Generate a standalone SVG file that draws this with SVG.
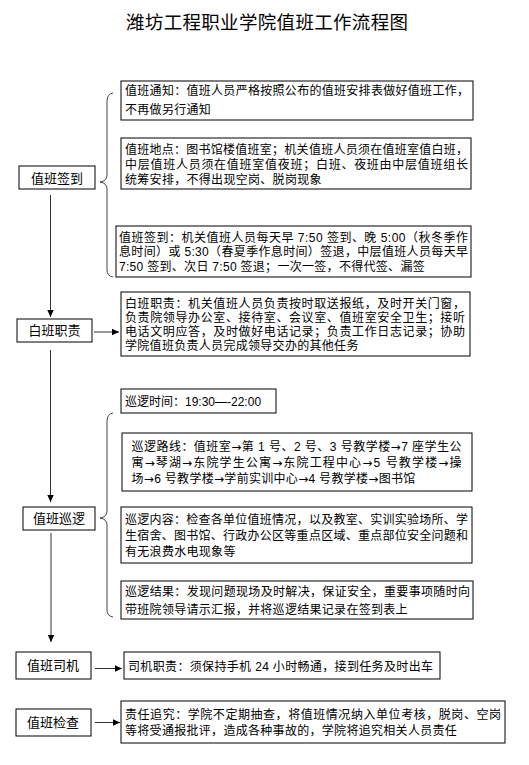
<svg xmlns="http://www.w3.org/2000/svg" width="529" height="765" viewBox="0 0 529 765">
<defs>
<marker id="ah" markerUnits="userSpaceOnUse" markerWidth="8" markerHeight="8" refX="7" refY="4" orient="auto">
<path d="M0,0.8 L7,4 L0,7.2 Z" fill="#000"/>
</marker>
<style>
.bx{fill:#fff;stroke:#000;stroke-width:1}
.t{font-family:"Liberation Sans","Noto Sans CJK SC",sans-serif;font-size:12px;fill:#000}
.a{font-family:"DejaVu Sans","Noto Sans CJK SC",sans-serif}
.n{font-family:"Liberation Sans","Noto Sans CJK SC",sans-serif;font-size:13px;fill:#000;text-anchor:middle}
.ttl{font-family:"Liberation Sans","Noto Sans CJK SC",sans-serif;font-size:18.5px;fill:#000}
.c{fill:none;stroke:#333;stroke-width:1}
.br{fill:none;stroke:#444;stroke-width:1}
</style>
</defs>
<rect width="529" height="765" fill="#fff"/>
<text class="ttl" x="126" y="29" textLength="282" lengthAdjust="spacing">潍坊工程职业学院值班工作流程图</text>

<g id="connectors">
<line class="c" x1="50.5" y1="195" x2="50.5" y2="317" marker-end="url(#ah)"/>
<line class="c" x1="94" y1="332" x2="119" y2="332" marker-end="url(#ah)"/>
<line class="c" x1="50.5" y1="350" x2="50.5" y2="502" marker-end="url(#ah)"/>
<line class="c" x1="51" y1="533" x2="51" y2="642" marker-end="url(#ah)"/>
<line class="c" x1="95" y1="668.5" x2="122" y2="668.5" marker-end="url(#ah)"/>
<line class="c" x1="95" y1="722.5" x2="120" y2="722.5" marker-end="url(#ah)"/>
<path class="br" d="M113,93 Q107,94 107,101 L107,175 Q107,181 100,182 Q107,183 107,189 L107,270 Q107,276 113,277"/>
<path class="br" d="M113,413 Q107,414 107,421 L107,511 Q107,517 100,518 Q107,519 107,525 L107,610 Q107,616 113,617"/>
</g>

<g id="node-qiandao">
<rect class="bx" x="19" y="166" width="76" height="23"/>
<text class="n" x="57" y="182.5">值班签到</text>
</g>
<g id="node-baiban">
<rect class="bx" x="17" y="319" width="75" height="23"/>
<text class="n" x="54.5" y="335">白班职责</text>
</g>
<g id="node-xunluo">
<rect class="bx" x="23" y="507" width="72" height="23"/>
<text class="n" x="59" y="523">值班巡逻</text>
</g>
<g id="node-siji">
<rect class="bx" x="16" y="652" width="75" height="27"/>
<text class="n" x="53" y="670">值班司机</text>
</g>
<g id="node-jiancha">
<rect class="bx" x="16" y="709" width="75" height="27"/>
<text class="n" x="53" y="727">值班检查</text>
</g>

<g id="box-tongzhi">
<rect class="bx" x="121" y="81" width="352" height="39"/>
<text class="t" x="125" y="95" textLength="344" lengthAdjust="spacing">值班通知：值班人员严格按照公布的值班安排表做好值班工作，</text>
<text class="t" x="125" y="113.5" letter-spacing="0.3">不再做另行通知</text>
</g>
<g id="box-didian">
<rect class="bx" x="121" y="138" width="350" height="51"/>
<text class="t" x="125" y="153.5" textLength="343" lengthAdjust="spacing">值班地点：图书馆楼值班室；机关值班人员须在值班室值白班，</text>
<text class="t" x="125" y="168.5" textLength="343" lengthAdjust="spacing">中层值班人员须在值班室值夜班；白班、夜班由中层值班组长</text>
<text class="t" x="125" y="183.5" letter-spacing="0.3">统筹安排，不得出现空岗、脱岗现象</text>
</g>
<g id="box-qiandao">
<rect class="bx" x="116" y="226" width="355" height="51"/>
<text class="t" x="119" y="241.5" textLength="349" lengthAdjust="spacing">值班签到：机关值班人员每天早 7:50 签到、晚 5:00（秋冬季作</text>
<text class="t" x="119" y="256" textLength="349" lengthAdjust="spacing">息时间）或 5:30（春夏季作息时间）签退，中层值班人员每天早</text>
<text class="t" x="119" y="270.5" letter-spacing="0.3">7:50 签到、次日 7:50 签退；一次一签，不得代签、漏签</text>
</g>
<g id="box-baiban">
<rect class="bx" x="121" y="292" width="349" height="64"/>
<text class="t" x="125" y="307.5" textLength="340" lengthAdjust="spacing">白班职责：机关值班人员负责按时取送报纸，及时开关门窗，</text>
<text class="t" x="125" y="321.5" textLength="340" lengthAdjust="spacing">负责院领导办公室、接待室、会议室、值班室安全卫生；接听</text>
<text class="t" x="125" y="335.5" textLength="340" lengthAdjust="spacing">电话文明应答，及时做好电话记录；负责工作日志记录；协助</text>
<text class="t" x="125" y="349.5" letter-spacing="0.3">学院值班负责人员完成领导交办的其他任务</text>
</g>
<g id="box-shijian">
<rect class="bx" x="121" y="389" width="155" height="24"/>
<text class="t" x="125" y="405.5">巡逻时间：19:30—-22:00</text>
</g>
<g id="box-luxian">
<rect class="bx" x="122" y="433" width="350" height="58"/>
<text class="t" x="131.5" y="450.5" textLength="330" lengthAdjust="spacing">巡逻路线：值班室<tspan class="a">→</tspan>第 1 号、2 号、3 号教学楼<tspan class="a">→</tspan>7 座学生公</text>
<text class="t" x="131.5" y="466.5" textLength="330" lengthAdjust="spacing">寓<tspan class="a">→</tspan>琴湖<tspan class="a">→</tspan>东院学生公寓<tspan class="a">→</tspan>东院工程中心<tspan class="a">→</tspan>5 号教学楼<tspan class="a">→</tspan>操</text>
<text class="t" x="131.5" y="482.5" letter-spacing="0.3">场<tspan class="a">→</tspan>6 号教学楼<tspan class="a">→</tspan>学前实训中心<tspan class="a">→</tspan>4 号教学楼<tspan class="a">→</tspan>图书馆</text>
</g>
<g id="box-neirong">
<rect class="bx" x="121" y="507" width="351" height="56"/>
<text class="t" x="125" y="524" textLength="343" lengthAdjust="spacing">巡逻内容：检查各单位值班情况，以及教室、实训实验场所、学</text>
<text class="t" x="125" y="539.5" textLength="343" lengthAdjust="spacing">生宿舍、图书馆、行政办公区等重点区域、重点部位安全问题和</text>
<text class="t" x="125" y="555.5" letter-spacing="0.3">有无浪费水电现象等</text>
</g>
<g id="box-jieguo">
<rect class="bx" x="121" y="581" width="352" height="38"/>
<text class="t" x="125" y="596" textLength="345" lengthAdjust="spacing">巡逻结果：发现问题现场及时解决，保证安全，重要事项随时向</text>
<text class="t" x="125" y="613.5" letter-spacing="0.3">带班院领导请示汇报，并将巡逻结果记录在签到表上</text>
</g>
<g id="box-siji">
<rect class="bx" x="124" y="652" width="316" height="27"/>
<text class="t" x="128" y="670.5" textLength="305" lengthAdjust="spacing">司机职责：须保持手机 24 小时畅通，接到任务及时出车</text>
</g>
<g id="box-zeren">
<rect class="bx" x="121" y="701" width="384" height="42"/>
<text class="t" x="125" y="718.5" textLength="376" lengthAdjust="spacing">责任追究：学院不定期抽查，将值班情况纳入单位考核，脱岗、空岗</text>
<text class="t" x="125" y="734.5" letter-spacing="0.3">等将受通报批评，造成各种事故的，学院将追究相关人员责任</text>
</g>
</svg>
